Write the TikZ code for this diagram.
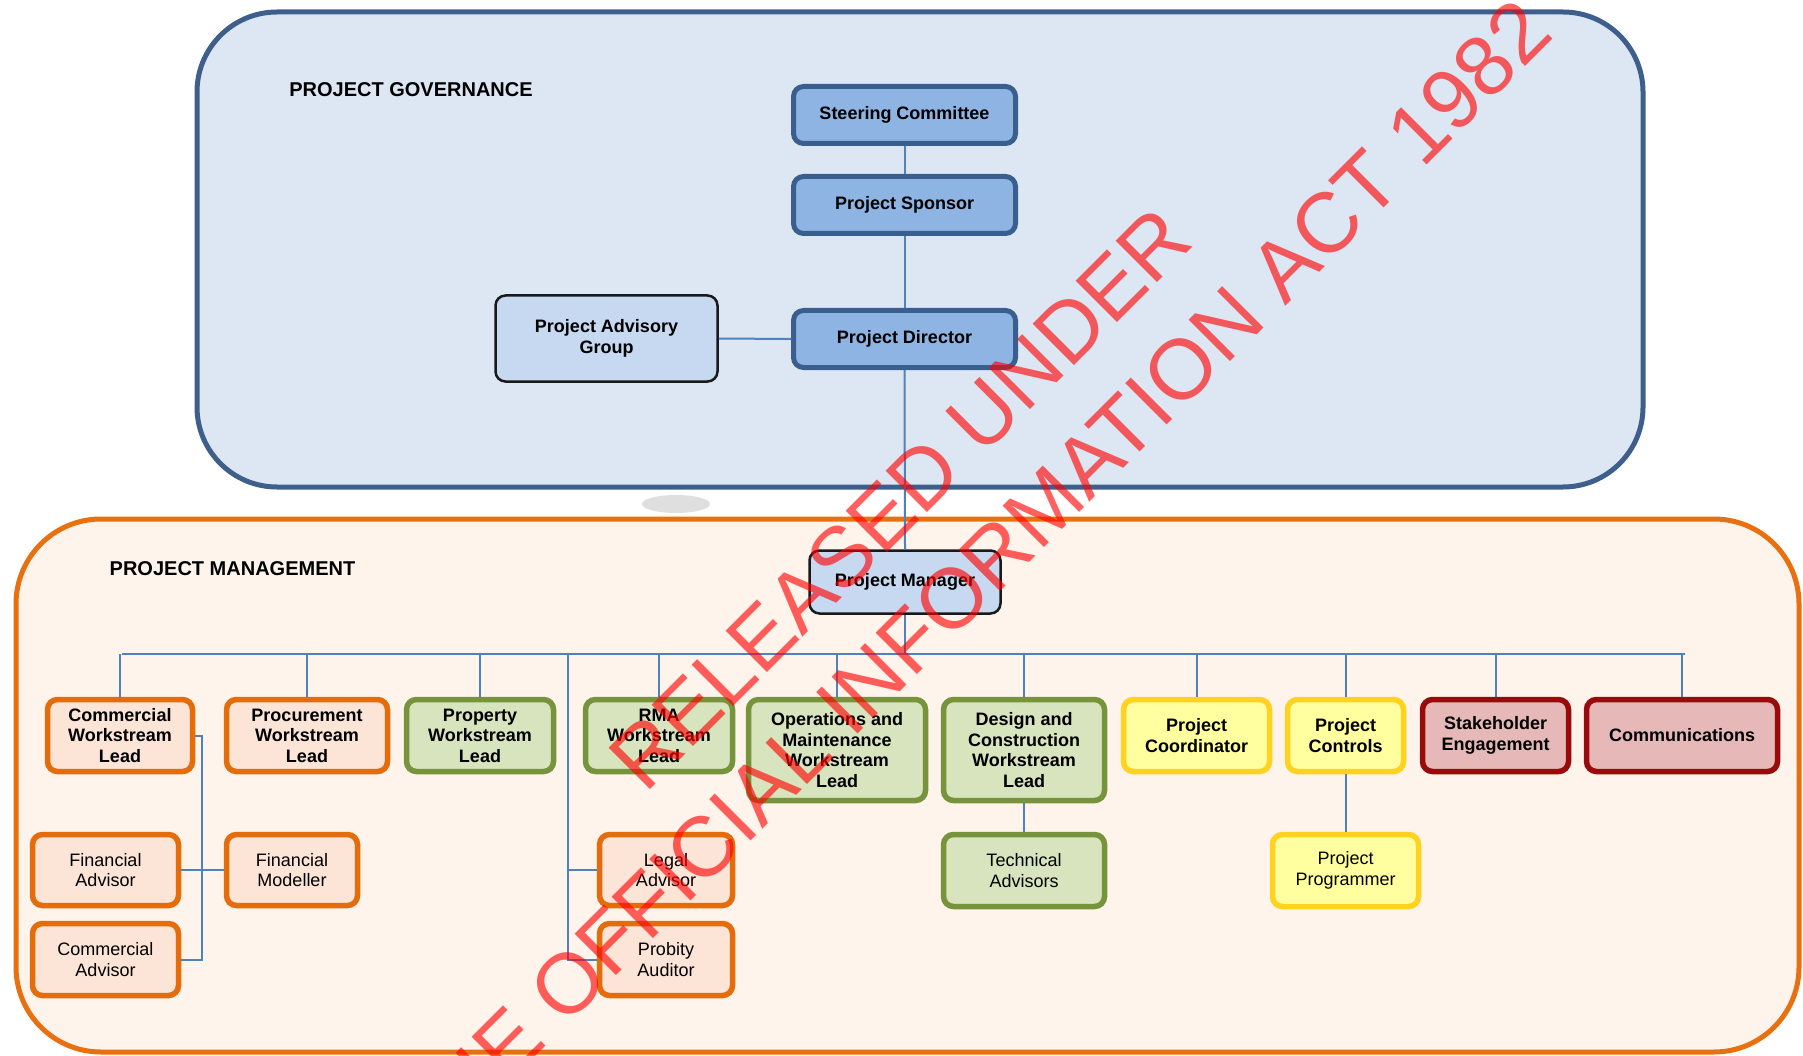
\documentclass[tikz,border=0pt]{standalone}
\usepackage{fontspec}
\setmainfont{Liberation Sans}
\usetikzlibrary{calc}
\definecolor{govbg}{HTML}{DDE7F3}
\definecolor{govframe}{HTML}{3E5F8C}
\definecolor{pmbg}{HTML}{FEF4EC}
\definecolor{pmframe}{HTML}{E8700E}
\definecolor{sfill}{HTML}{8DB4E2}
\definecolor{sborder}{HTML}{3A5F8E}
\definecolor{lfill}{HTML}{C6D9F1}
\definecolor{ofill}{HTML}{FCE4D6}
\definecolor{oborder}{HTML}{E46C0A}
\definecolor{gfill}{HTML}{D7E4BD}
\definecolor{gborder}{HTML}{77933C}
\definecolor{yfill}{HTML}{FFFFA0}
\definecolor{yborder}{HTML}{FFD21F}
\definecolor{rfill}{HTML}{E6B9B8}
\definecolor{rborder}{HTML}{990A0A}
\definecolor{connc}{HTML}{4F81BD}
\newcommand\bxbold{\fontsize{18}{20.5}\selectfont\bfseries}
\newcommand\bxreg{\fontsize{18}{20.5}\selectfont}
\newcommand\ttlfont{\fontsize{20}{24}\selectfont\bfseries}
\newcommand\wmfont{\fontsize{85}{90}\selectfont}
\begin{document}
\begin{tikzpicture}[x=1pt,y=-1pt,
  sz/.style n args={2}{minimum width=#1pt, minimum height=#2pt},
  basebox/.style={rounded corners=10pt, align=center, inner sep=0pt, text=black},
  govbox/.style={basebox, draw=sborder, fill=sfill, line width=5pt, font=\bxbold},
  litebox/.style={basebox, draw=black!90, fill=lfill, line width=2.5pt, font=\bxbold},
  obox/.style={basebox, draw=oborder, fill=ofill, line width=5.5pt, font=\bxbold},
  oboxr/.style={obox, font=\bxreg},
  gbox/.style={basebox, draw=gborder, fill=gfill, line width=5.5pt, font=\bxbold},
  gboxr/.style={gbox, font=\bxreg},
  ybox/.style={basebox, draw=yborder, fill=yfill, line width=5.5pt, font=\bxbold},
  yboxr/.style={ybox, font=\bxreg},
  rbox/.style={basebox, draw=rborder, fill=rfill, line width=5.5pt, font=\bxbold},
  conn/.style={draw=connc, line width=2pt},
  frametitle/.style={font=\ttlfont, inner sep=0pt, text=black},
  wmark/.style={font=\wmfont, text=red, text opacity=0.62, inner sep=0pt, anchor=base west, rotate=45}
]
\useasboundingbox (0,0) rectangle (1803,1056);
\clip (0,0) rectangle (1803,1056);
\fill[white] (0,0) rectangle (1803,1056);

% frames
\draw[govframe, fill=govbg, line width=5pt, rounded corners=80pt] (197,12) rectangle (1643,487);
\fill[gray!35, opacity=0.7] (676,504) ellipse [x radius=34pt, y radius=9pt];
\draw[pmframe, fill=pmbg, line width=5pt, rounded corners=85pt] (16,519) rectangle (1799,1052);

\node[frametitle] (tgov) at (411,90) {PROJECT GOVERNANCE};
\node[frametitle] (tpm) at (232.5,569) {PROJECT MANAGEMENT};

% governance
\node[govbox, sz={222}{57}] (sc) at (904.5,115) {Steering Committee};
\node[govbox, sz={222}{57}] (ps) at (904.5,205) {Project Sponsor};
\node[govbox, sz={222}{57}] (pd) at (904.5,339) {Project Director};
\node[litebox, sz={222}{86}] (pag) at (606.5,338.5) {Project Advisory\\Group};

% management
\node[litebox, sz={191}{63}] (pm) at (905,582) {Project Manager};

\node[obox, sz={145}{72}] (cwl) at (120,735.5) {Commercial\\Workstream\\Lead};
\node[obox, sz={161}{72}] (prl) at (307,735.5) {Procurement\\Workstream\\Lead};
\node[gbox, sz={147}{72}] (pyl) at (480,735.5) {Property\\Workstream\\Lead};
\node[gbox, sz={147}{72}] (rma) at (659,735.5) {RMA\\Workstream\\Lead};
\node[gbox, sz={177}{101}] (om) at (837,750) {Operations and\\Maintenance\\Workstream\\Lead};
\node[gbox, sz={161}{101}] (dc) at (1024,750) {Design and\\Construction\\Workstream\\Lead};
\node[ybox, sz={146}{72}] (pco) at (1196.5,735.5) {Project\\Coordinator};
\node[ybox, sz={116}{72}] (pct) at (1345.5,735.5) {Project\\Controls};
\node[rbox, sz={146}{72}] (se) at (1495.5,735.5) {Stakeholder\\Engagement};
\node[rbox, sz={191}{72}] (com) at (1682,735.5) {Communications};

\node[oboxr, sz={146}{71}] (fa) at (105.5,870) {Financial\\Advisor};
\node[oboxr, sz={131}{71}] (fm) at (292,870) {Financial\\Modeller};
\node[oboxr, sz={146}{72}] (ca) at (105.5,959.5) {Commercial\\Advisor};
\node[oboxr, sz={133}{71}] (la) at (666,870) {Legal\\Advisor};
\node[oboxr, sz={133}{72}] (pa) at (666,959.5) {Probity\\Auditor};
\node[gboxr, sz={161}{72}] (ta) at (1024,870.5) {Technical\\Advisors};
\node[yboxr, sz={146}{72}] (pp) at (1345.5,870.5) {Project\\Programmer};

% connectors
\coordinate (busL) at (122,654);
\coordinate (busR) at (1685,654);
\coordinate (lpTop) at (568,654);
\draw[conn] (sc.south) -- (ps.north);
\draw[conn] (ps.south) -- (pd.north);
\draw[conn] (pag.east) -- (pd.west);
\draw[conn] (pd.south) -- (pm.north);
\draw[conn] (pm.south) -- (pm.south |- busL);
\draw[conn] (busL) -- (busR);
\foreach \n in {cwl,prl,pyl,rma,om,dc,pco,pct,se,com}{
  \draw[conn] (\n.north) -- (\n.north |- busL);
}
\draw[conn] (lpTop) |- (pa.west);
\draw[conn] (lpTop |- la.west) -- (la.west);
\draw[conn] (cwl.east) -- ++(7,0) |- (ca.east);
\draw[conn] (fa.east) -- (fm.west);
\draw[conn] (dc.south) -- (ta.north);
\draw[conn] (pct.south) -- (pp.north);

% watermark
\node[wmark] (wm1) at (645,795) {RELEASED UNDER};
\node[wmark] (wm2) at (428,1164) {THE OFFICIAL INFORMATION ACT 1982};
\end{tikzpicture}
\end{document}
